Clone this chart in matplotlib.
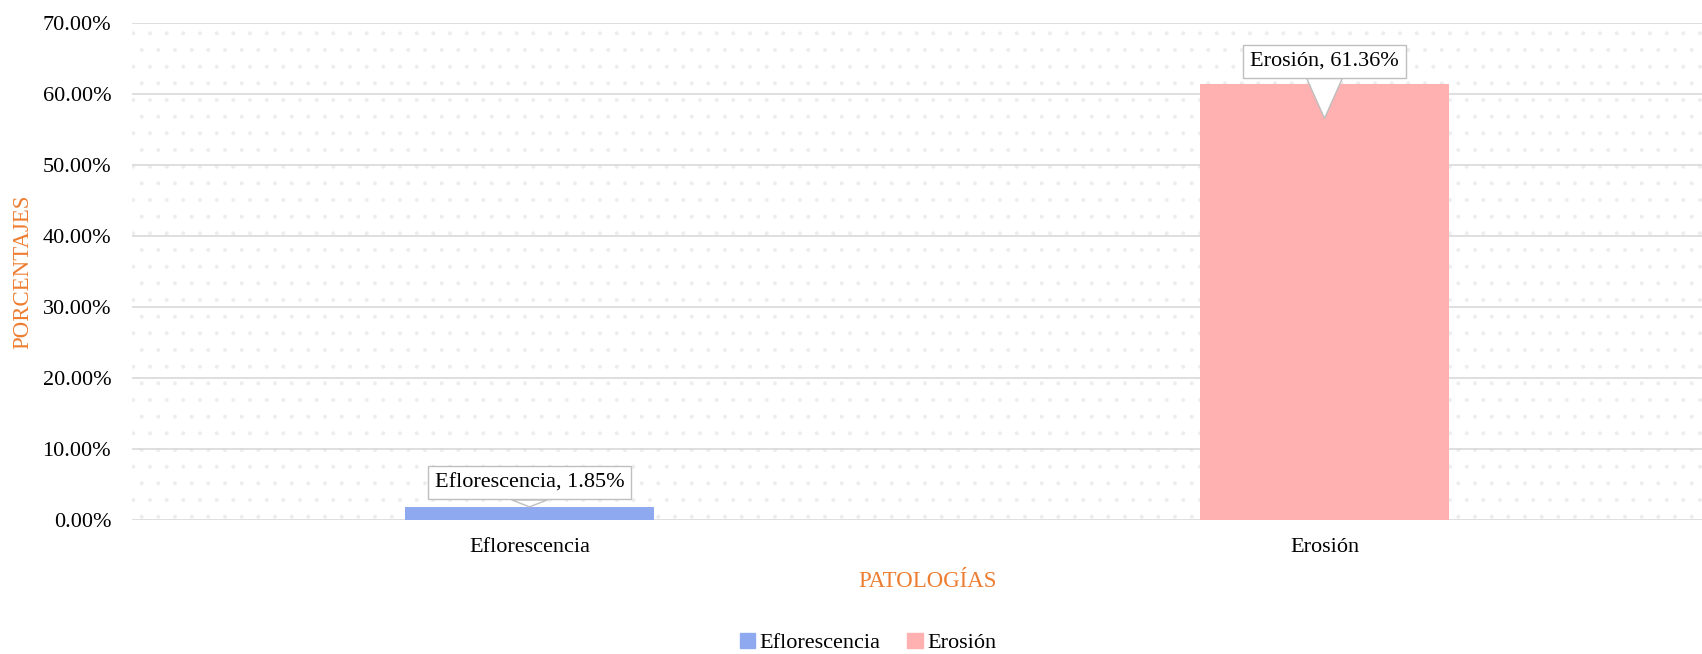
import matplotlib
matplotlib.use("Agg")
import matplotlib.pyplot as plt
import matplotlib.patches as mpatches
from matplotlib.transforms import offset_copy

# data
categories = ["Eflorescencia", "Erosión"]
values = [1.85, 61.36]
colors = ["#8EA9F0", "#FFB0B0"]
y_ticks = [0, 10, 20, 30, 40, 50, 60, 70]

plt.rcParams['font.family'] = ['Liberation Serif', 'DejaVu Serif']
plt.rcParams['hatch.linewidth'] = 0.4

fig = plt.figure(figsize=(17.02, 6.54), dpi=100)
ax = fig.add_axes([132 / 1702, 1 - 520 / 654, 1590 / 1702, 497 / 654])

# dotted background
bg = mpatches.Rectangle((0, 0), 1, 1, transform=ax.transAxes, facecolor='none',
                        edgecolor='#EDEDED', lw=0, hatch='.', zorder=0.1)
ax.add_patch(bg)

x = list(range(len(categories)))
ax.bar(x, values, width=0.313, color=colors, zorder=2)

ax.set_xlim(-0.5, 1.5)
ax.set_ylim(0, 70)
ax.set_yticks(y_ticks)
ax.set_yticklabels(["%.2f%%" % t for t in y_ticks])
ax.set_xticks(x)
ax.set_xticklabels(categories)
ax.tick_params(length=0, labelsize=16)
ax.tick_params(axis='y', pad=15)
ax.tick_params(axis='x', pad=13)
for s in ax.spines.values():
    s.set_visible(False)
ax.set_axisbelow(True)
ax.yaxis.grid(True, color='#D9D9D9', lw=1.2, zorder=0.5)

ax.set_xlabel("PATOLOGÍAS", color='#ED7D31', fontsize=16.5, labelpad=10)
ax.set_ylabel("PORCENTAJES", color='#ED7D31', fontsize=16.5, labelpad=7)

# callout data labels: tip and text offsets from bar top, in pixels
tip_dy = [0, -34]
text_dy = [24, 23]
for i, (cat, v) in enumerate(zip(categories, values)):
    tr = offset_copy(ax.transData, fig=fig, x=0, y=tip_dy[i], units='dots')
    ax.annotate("%s, %.2f%%" % (cat, v), xy=(i, v), xycoords=tr,
                xytext=(0, text_dy[i] - tip_dy[i]), textcoords='offset pixels',
                ha='center', va='center', fontsize=16, zorder=5,
                bbox=dict(boxstyle='square,pad=0.32', fc='white', ec='#BFBFBF', lw=1),
                arrowprops=dict(arrowstyle='wedge,tail_width=1.6,shrink_factor=0.5',
                                fc='white', ec='#BFBFBF', lw=1, shrinkA=0, shrinkB=0))

handles = [mpatches.Patch(color=c, label=l) for c, l in zip(colors, categories)]
fig.legend(handles=handles, loc='center', bbox_to_anchor=(868 / 1702, 1 - 643 / 654),
           ncol=2, frameon=False, fontsize=16, handlelength=0.7, handleheight=0.7,
           handletextpad=0.2, columnspacing=1.2)

fig.savefig("out.png", dpi=100)
